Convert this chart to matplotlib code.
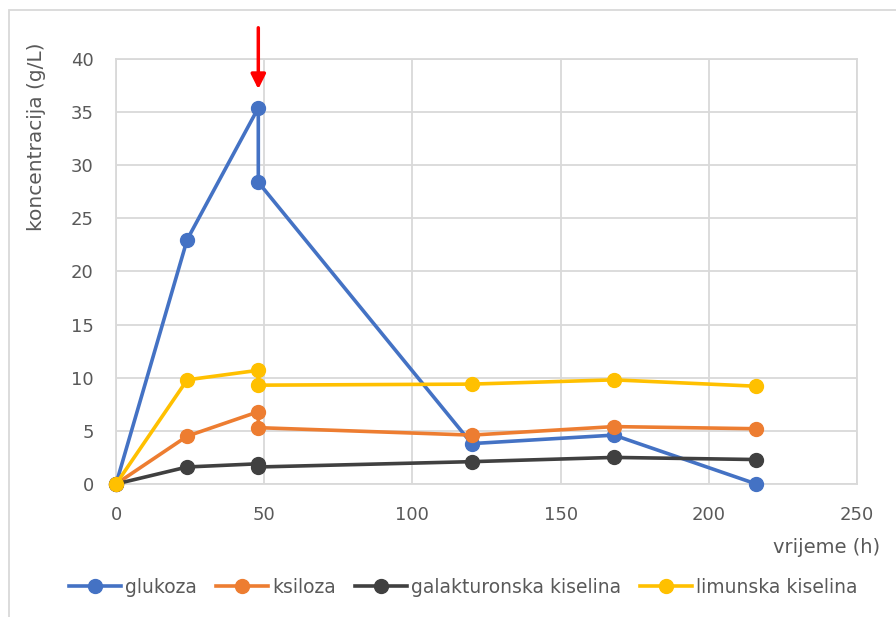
import numpy as np
import matplotlib.pyplot as plt
from matplotlib.patches import Rectangle

# vrijeme (h)
t = [0, 24, 48, 48, 120, 168, 216]
glukoza = [0, 23.0, 35.4, 28.4, 3.8, 4.6, 0.0]
ksiloza = [0, 4.5, 6.8, 5.3, 4.6, 5.4, 5.2]
galakturonska = [0, 1.6, 1.9, 1.6, 2.1, 2.5, 2.3]
limunska = [0, 9.8, 10.7, 9.3, 9.4, 9.8, 9.2]

series = [
    ("glukoza", glukoza, "#4472C4"),
    ("ksiloza", ksiloza, "#ED7D31"),
    ("galakturonska kiselina", galakturonska, "#404040"),
    ("limunska kiselina", limunska, "#FFC000"),
]

plt.rcParams['font.family'] = ['DejaVu Sans']
grey = '#595959'

fig = plt.figure(figsize=(8.96, 6.17), dpi=100)
ax = fig.add_axes([0.1295, 0.2156, 0.827, 0.6888])

for name, vals, col in series:
    ax.plot(t, vals, color=col, lw=2.6, marker='o', ms=10, label=name,
            clip_on=False, zorder=3)

ax.set_xlim(0, 250)
ax.set_ylim(0, 40)
ax.set_xticks(np.arange(0, 251, 50))
ax.set_yticks(np.arange(0, 41, 5))
ax.grid(True, color='#D9D9D9', lw=1.3)
ax.set_axisbelow(True)
for s in ax.spines.values():
    s.set_color('#D9D9D9')
    s.set_linewidth(1.3)
ax.tick_params(length=0, labelsize=13, colors=grey, pad=16)

ax.set_ylabel('koncentracija (g/L)', fontsize=14.5, color=grey)
ax.yaxis.set_label_coords(-0.095, 0.816)
fig.text(0.982, 0.113, 'vrijeme (h)', fontsize=14, color=grey,
         ha='right', va='center')

# dodavanje supstrata u 48. h
ax.annotate('', xy=(48, 36.9), xytext=(48, 43.2),
            arrowprops=dict(arrowstyle='-|>', color='red', lw=2.5,
                            mutation_scale=22),
            annotation_clip=False)

leg = fig.legend(loc='center', bbox_to_anchor=(0.517, 0.048), ncol=4,
                 frameon=False, fontsize=13.5, handlelength=2.8,
                 columnspacing=1.0, handletextpad=0.2)
for txt in leg.get_texts():
    txt.set_color(grey)

fig.patches.append(Rectangle((0.010, -0.1), 1.1, 1.1 - 10 / 617,
                             transform=fig.transFigure, fill=False,
                             edgecolor='#D9D9D9', lw=1.3))

fig.savefig('out.png', dpi=100)
